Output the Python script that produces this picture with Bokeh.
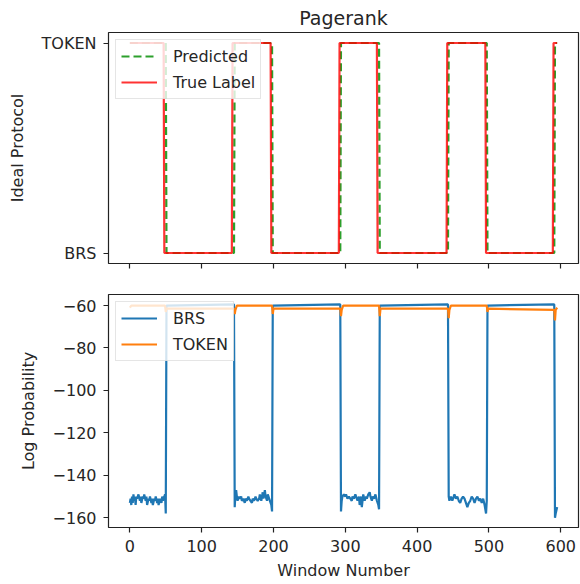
from bokeh.plotting import figure
from bokeh.models import Range1d, FixedTicker, Legend, LegendItem
from bokeh.layouts import column
from bokeh.embed import file_html
from bokeh.resources import INLINE

# ---------------- data ----------------
state_value = {"BRS": 0, "TOKEN": 1}
last_window = 595

true_states = ["TOKEN", "BRS", "TOKEN", "BRS", "TOKEN", "BRS", "TOKEN", "BRS", "TOKEN"]
true_starts = [0, 48, 143, 197, 292, 345, 442, 496, 590]

pred_states = ["TOKEN", "BRS", "TOKEN", "BRS", "TOKEN", "BRS", "TOKEN", "BRS", "TOKEN"]
pred_starts = [0, 51, 146, 199, 294, 348, 444, 498, 592]

brs_x = [0, 1, 2, 3, 4, 5, 6, 7, 8, 9, 10, 12, 14, 15, 16, 18, 19, 20, 22, 23, 24, 26, 27, 28, 30, 31, 32, 34, 35, 36,
         38, 39, 40, 42, 43, 44, 45, 46, 47, 48, 49, 50,
         51, 145,
         146, 147, 148, 149, 150, 152, 153, 155, 156, 158, 160, 161, 163, 165, 166, 168, 170, 171, 173, 175, 176, 178,
         180, 181, 183, 185, 186, 188, 189, 191, 192, 194, 196, 197, 198,
         199, 293,
         294, 295, 296, 298, 300, 301, 303, 305, 307, 309, 310, 312, 314, 316, 317, 319, 320, 322, 323, 325, 327, 329,
         330, 332, 334, 335, 337, 338, 340, 342, 344, 346, 347,
         348, 443,
         444, 445, 447, 449, 450, 452, 454, 456, 458, 460, 462, 464, 466, 468, 470, 472, 474, 476, 478, 480, 482, 484,
         486, 488, 490, 492, 494, 496, 497,
         498, 591,
         592, 593, 595]
brs_y = [-153, -151, -154, -150, -153, -149, -152, -150, -154, -150, -151, -149, -152, -150, -153, -150, -151, -149,
         -152, -150, -154, -151, -152, -150, -153, -151, -154, -151, -152, -150, -153, -151, -154, -151, -152, -153,
         -150, -152, -151, -150, -149, -158,
         -60, -59.5,
         -155, -149, -147, -150, -152, -150, -151, -150, -152, -151, -153, -151, -152, -150, -151, -152, -153, -151,
         -152, -150, -151, -152, -151, -149, -152, -148, -151, -147, -150, -152, -149, -151, -153, -154, -157,
         -60, -59.5,
         -157, -152, -150, -149, -150, -149, -151, -150, -151, -152, -150, -151, -149, -151, -152, -150, -154, -150,
         -155, -149, -152, -150, -151, -149, -148, -150, -152, -150, -151, -149, -152, -154, -156,
         -60, -59.5,
         -150, -152, -150, -152, -151, -149, -151, -150, -152, -153, -151, -150, -151, -153, -155, -153, -152, -150,
         -151, -153, -151, -150, -152, -151, -153, -151, -154, -158, -152,
         -60, -59.5,
         -160, -158, -155]

token_x = [0, 2, 49, 50, 51, 145, 146, 147, 149, 198, 199, 200, 293, 294, 295, 297, 347, 348, 349,
           443, 444, 445, 447, 497, 498, 499, 591, 592, 593, 595]
token_y = [-61, -60, -60, -63, -61.5, -61.5, -64, -62, -60, -60, -64, -61.5, -61.5, -65, -62, -60, -60, -65, -61.5,
           -61.5, -66, -62, -60, -60, -63, -61.5, -62, -67, -62, -61]

x_ticks = [0, 100, 200, 300, 400, 500, 600]
logp_ticks = [-160, -140, -120, -100, -80, -60]
logp_tick_labels = ["\u2212160", "\u2212140", "\u2212120", "\u2212100", "\u221280", "\u221260"]


def runs_to_line(states, starts, end):
    xs, ys = [], []
    for i, s in enumerate(states):
        a = starts[i]
        b = starts[i + 1] - 1 if i + 1 < len(starts) else end
        xs += [a, b]
        ys += [state_value[s], state_value[s]]
    return xs, ys


true_x, true_y = runs_to_line(true_states, true_starts, last_window)
pred_x, pred_y = runs_to_line(pred_states, pred_starts, last_window)

# ---------------- style ----------------
FONT = "DejaVu Sans"
TXT = "#262626"
FS = "16px"


def style(p):
    p.outline_line_color = "#222222"
    p.outline_line_width = 1.2
    p.xgrid.visible = False
    p.ygrid.visible = False
    p.background_fill_color = "white"
    p.border_fill_color = "white"
    for ax in (p.xaxis, p.yaxis):
        ax.axis_line_color = None
        ax.major_tick_line_color = "#222222"
        ax.major_tick_line_width = 1.2
        ax.major_tick_out = 5
        ax.major_tick_in = 0
        ax.minor_tick_line_color = None
        ax.major_label_text_font = FONT
        ax.major_label_text_font_size = FS
        ax.major_label_text_color = TXT
        ax.major_label_standoff = 7
        ax.axis_label_text_font = FONT
        ax.axis_label_text_font_size = FS
        ax.axis_label_text_font_style = "normal"
        ax.axis_label_text_color = TXT
        ax.axis_label_standoff = 12


def style_legend(leg):
    leg.location = "top_left"
    leg.margin = 7
    leg.padding = 5
    leg.spacing = 4
    leg.glyph_width = 36
    leg.glyph_height = 22
    leg.label_height = 22
    leg.label_standoff = 16
    leg.label_text_font = FONT
    leg.label_text_font_size = FS
    leg.label_text_color = TXT
    leg.border_line_color = "#cccccc"
    leg.border_line_width = 1
    leg.background_fill_color = "white"
    leg.background_fill_alpha = 0.8


xr = Range1d(-29.75, 624.75)

p1 = figure(width=580, height=293, x_range=xr, y_range=Range1d(-0.05, 1.05),
            output_backend="svg", toolbar_location=None,
            min_border_left=108, min_border_right=2, min_border_top=31, min_border_bottom=30)
style(p1)
p1.title.text = "Pagerank"
p1.title.align = "center"
p1.title.text_font = FONT
p1.title.text_font_size = "19px"
p1.title.text_font_style = "normal"
p1.title.text_color = TXT
p1.title.standoff = 8
p1.xaxis.ticker = FixedTicker(ticks=x_ticks)
p1.xaxis.major_label_overrides = {t: "" for t in x_ticks}
p1.xaxis.major_label_standoff = 0
p1.yaxis.ticker = FixedTicker(ticks=[0, 1])
p1.yaxis.major_label_overrides = {0: "BRS", 1: "TOKEN"}
p1.yaxis.axis_label = "Ideal Protocol"

r_pred = p1.line(pred_x, pred_y, line_color="#2ca02c", line_width=2.2, line_dash="8 4")
r_true = p1.line(true_x, true_y, line_color="#ff0000", line_width=2.2, line_alpha=0.8)
leg1 = Legend(items=[LegendItem(label="Predicted", renderers=[r_pred]),
                     LegendItem(label="True Label", renderers=[r_true])])
style_legend(leg1)
p1.add_layout(leg1)

p2 = figure(width=580, height=291, x_range=xr, y_range=Range1d(-164.6, -54.8),
            output_backend="svg", toolbar_location=None,
            min_border_left=108, min_border_right=2, min_border_top=1, min_border_bottom=57)
style(p2)
p2.xaxis.ticker = FixedTicker(ticks=x_ticks)
p2.xaxis.major_label_standoff = 7
p2.xaxis.axis_label = "Window Number"
p2.xaxis.axis_label_standoff = 6
p2.yaxis.ticker = FixedTicker(ticks=logp_ticks)
p2.yaxis.major_label_overrides = dict(zip(logp_ticks, logp_tick_labels))
p2.yaxis.axis_label = "Log Probability"

r_brs = p2.line(brs_x, brs_y, line_color="#1f77b4", line_width=2.2)
r_tok = p2.line(token_x, token_y, line_color="#ff7f0e", line_width=2.2)
leg2 = Legend(items=[LegendItem(label="BRS", renderers=[r_brs]),
                     LegendItem(label="TOKEN", renderers=[r_tok])])
style_legend(leg2)
p2.add_layout(leg2)

layout = column(p1, p2)
open("out.html", "w").write(file_html(layout, INLINE))
